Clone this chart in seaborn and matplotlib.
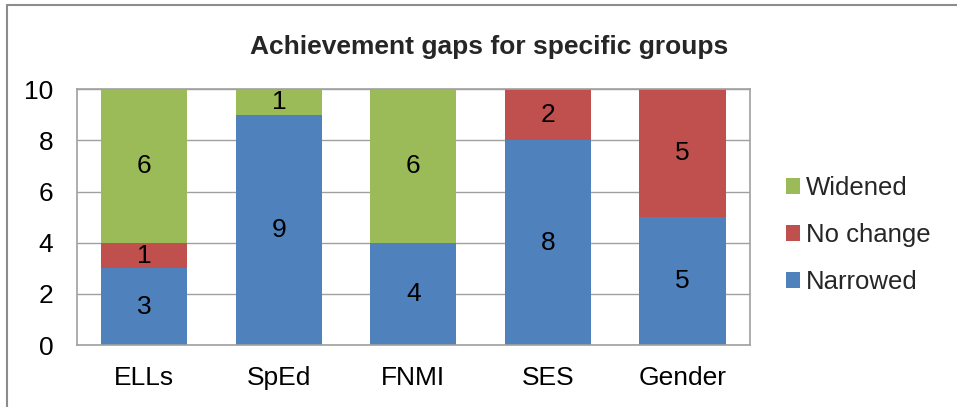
import numpy as np
import pandas as pd
import matplotlib.pyplot as plt
import seaborn as sns
from matplotlib.lines import Line2D

groups = ["ELLs", "SpEd", "FNMI", "SES", "Gender"]
narrowed = [3, 9, 4, 8, 5]
no_change = [1, 0, 0, 2, 5]
widened = [6, 1, 6, 0, 0]

colors = {"Widened": "#9BBB59", "No change": "#C0504D", "Narrowed": "#4F81BD"}

sns.set_style("white")
plt.rcParams["font.family"] = ["Liberation Sans", "DejaVu Sans"]

df = pd.DataFrame({"group": groups, "Narrowed": narrowed,
                   "No change": no_change, "Widened": widened})
df["low"] = df["Narrowed"]
df["mid"] = df["Narrowed"] + df["No change"]
df["top"] = df["mid"] + df["Widened"]

fig = plt.figure(figsize=(9.57, 4.07), dpi=100)
ax = fig.add_axes([0.0805, 0.152, 0.703, 0.629])

# layered totals to get stacked bars
for col, lab in [("top", "Widened"), ("mid", "No change"), ("low", "Narrowed")]:
    sns.barplot(data=df, x="group", y=col, color=colors[lab], width=0.64,
                saturation=1, label=lab, linewidth=0, ax=ax, zorder=2)

# segment labels
for i, row in df.iterrows():
    base = 0
    for col in ["Narrowed", "No change", "Widened"]:
        v = row[col]
        if v > 0:
            ax.text(i, base + v / 2, str(v), ha="center", va="center",
                    fontsize=19, color="black", zorder=3)
        base += v

ax.set_ylim(0, 10)
ax.set_yticks([0, 2, 4, 6, 8, 10])
ax.set_xlim(-0.5, 4.5)
ax.set_xlabel("")
ax.set_ylabel("")
ax.yaxis.grid(True, color="#A0A0A0", linewidth=1)
ax.set_axisbelow(True)
for s in ax.spines.values():
    s.set_visible(True)
    s.set_color("#A0A0A0")
    s.set_linewidth(1.2)
ax.tick_params(axis="both", length=0, labelsize=19, colors="black")
ax.tick_params(axis="x", pad=15)
ax.tick_params(axis="y", pad=17)

fig.suptitle("Achievement gaps for specific groups", x=0.511, y=0.915,
             fontsize=19, fontweight="bold")

handles, labels = ax.get_legend_handles_labels()
leg = ax.legend(handles, labels, loc="center left", bbox_to_anchor=(1.0, 0.43),
                frameon=False, fontsize=18.5, handlelength=0.55, handleheight=0.55,
                handletextpad=0.25, labelspacing=0.9, borderaxespad=1.0)

# outer chart border (top and left visible)
fig.add_artist(Line2D([0.0073, 1.0], [0.988, 0.988], color="#8C8C8C", linewidth=1.5))
fig.add_artist(Line2D([0.0073, 0.0073], [0.0, 0.988], color="#8C8C8C", linewidth=1.5))

fig.savefig("out.png", dpi=100)
